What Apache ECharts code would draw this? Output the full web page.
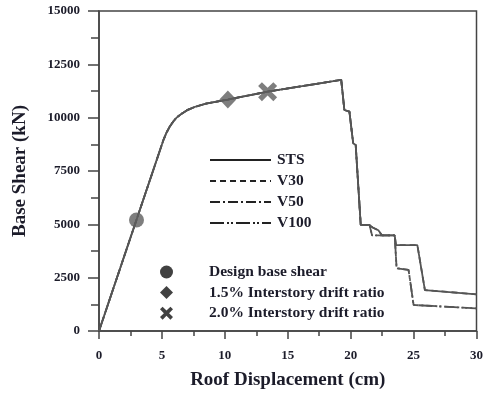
<!DOCTYPE html>
<html><head><meta charset="utf-8">
<script src="https://cdn.jsdelivr.net/npm/echarts@6/dist/echarts.min.js"></script>
<style>html,body{margin:0;padding:0;background:#fff}#c{width:486px;height:395px}</style>
</head><body><div id="c"></div>
<script>
// Pushover curves (Roof displacement cm, base shear kN)
const stsX = [0, 5.1, 5.35, 5.6, 5.9, 6.2, 6.6, 7.0, 7.6, 8.5, 10.24, 13.4, 19.25, 19.5, 19.9, 20.2, 20.4, 20.8, 21.5, 21.75, 22.2, 22.5, 23.5, 23.6, 25.3, 25.9, 30];
const stsY = [0, 8920, 9280, 9560, 9820, 10020, 10200, 10350, 10500, 10660, 10850, 11220, 11770, 10360, 10280, 8800, 8720, 4970, 4970, 4850, 4720, 4480, 4480, 4030, 4030, 1920, 1720];
const v30X = [0, 5.1, 5.35, 5.6, 5.9, 6.2, 6.6, 7.0, 7.6, 8.5, 10.24, 13.4, 19.25, 19.5, 19.9, 20.2, 20.4, 20.8, 21.5, 21.75, 22.2, 22.5, 23.5, 23.6, 25.3, 25.9, 30];
const v30Y = [0, 8920, 9280, 9560, 9820, 10020, 10200, 10350, 10500, 10660, 10850, 11220, 11770, 10360, 10280, 8800, 8720, 4970, 4970, 4850, 4720, 4480, 4480, 4030, 4030, 1920, 1720];
const v50X = [0, 5.1, 5.35, 5.6, 5.9, 6.2, 6.6, 7.0, 7.6, 8.5, 10.24, 13.4, 19.25, 19.5, 19.9, 20.2, 20.4, 20.8, 21.5, 21.7, 23.5, 23.65, 24.6, 25.0, 30];
const v50Y = [0, 8920, 9280, 9560, 9820, 10020, 10200, 10350, 10500, 10660, 10850, 11220, 11770, 10360, 10280, 8800, 8720, 4970, 4970, 4480, 4480, 2940, 2870, 1220, 1060];
const v100X = [0, 5.1, 5.35, 5.6, 5.9, 6.2, 6.6, 7.0, 7.6, 8.5, 10.24, 13.4, 19.25, 19.5, 19.9, 20.2, 20.4, 20.8, 21.5, 21.7, 23.5, 23.65, 24.6, 25.0, 30];
const v100Y = [0, 8920, 9280, 9560, 9820, 10020, 10200, 10350, 10500, 10660, 10850, 11220, 11770, 10360, 10280, 8800, 8720, 4970, 4970, 4480, 4480, 2940, 2870, 1220, 1060];
// Performance points
const designPt = [2.98, 5200];
const drift15Pt = [10.24, 10850];
const drift20Pt = [13.4, 11220];
// Ticks
const xTicks = [0, 5, 10, 15, 20, 25, 30];
const yTicks = [0, 2500, 5000, 7500, 10000, 12500, 15000];
const lineNames = ['STS', 'V30', 'V50', 'V100'];
const markerNames = ['Design base shear', '1.5% Interstory drift ratio', '2.0% Interstory drift ratio'];

const zip = (xs, ys) => xs.map((x, i) => [x, ys[i]]);
const font = 'Liberation Serif, Times New Roman, serif';
const txt = '#1c1c2a';
const crossPath = 'path://M20,0 L50,30 L80,0 L100,20 L70,50 L100,80 L80,100 L50,70 L20,100 L0,80 L30,50 L0,20 Z';

const lineCol = '#555';
function lineSeries(name, xs, ys, type) {
  return { name, type: 'line', data: zip(xs, ys), symbol: 'none', showSymbol: false, z: 2,
    lineStyle: { color: lineCol, width: 1.8, type: type }, itemStyle: { color: lineCol } };
}

const chart = echarts.init(document.getElementById('c'), null, { renderer: 'canvas' });
chart.setOption({
  animation: false,
  backgroundColor: '#fff',
  grid: { left: 99, right: 8, top: 11, bottom: 64, show: true, borderColor: '#444', borderWidth: 1.5, backgroundColor: 'transparent' },
  xAxis: {
    type: 'value', min: xTicks[0], max: xTicks[xTicks.length - 1], interval: 5,
    name: 'Roof Displacement (cm)', nameLocation: 'middle', nameGap: 40,
    nameTextStyle: { fontFamily: font, fontWeight: 'bold', fontSize: 19, color: txt },
    axisLine: { lineStyle: { color: '#444', width: 1.5 } },
    axisTick: { length: 8, lineStyle: { color: '#444', width: 1.5 } },
    minorTick: { show: true, splitNumber: 2, length: 5, lineStyle: { color: '#444', width: 1.5 } },
    splitLine: { show: false },
    axisLabel: { fontFamily: font, fontWeight: 'bold', fontSize: 13, color: txt, margin: 18, formatter: v => String(v) }
  },
  yAxis: {
    type: 'value', min: yTicks[0], max: yTicks[yTicks.length - 1], interval: 2500,
    name: 'Base Shear (kN)', nameLocation: 'middle', nameGap: 69,
    nameTextStyle: { fontFamily: font, fontWeight: 'bold', fontSize: 19, color: txt },
    axisLine: { show: true, lineStyle: { color: '#444', width: 1.5 } },
    axisTick: { show: true, length: 11, lineStyle: { color: '#444', width: 1.5 } },
    minorTick: { show: true, splitNumber: 2, length: 8, lineStyle: { color: '#444', width: 1.5 } },
    splitLine: { show: false },
    axisLabel: { fontFamily: font, fontWeight: 'bold', fontSize: 13, color: txt, margin: 19, formatter: v => String(v) }
  },
  legend: [
    { data: lineNames, orient: 'vertical', left: 209, top: 152, padding: 0, itemWidth: 61, itemHeight: 16, itemGap: 5,
      itemStyle: { opacity: 0 },
      lineStyle: { color: '#222' },
      textStyle: { fontFamily: font, fontWeight: 'bold', fontSize: 15.5, lineHeight: 16, color: txt, padding: [0, 0, 0, 1] } },
    { data: markerNames.map(n => ({ name: n, itemStyle: { color: '#111' } })), orient: 'vertical', left: 160, top: 264, padding: 0,
      itemWidth: 13, itemHeight: 13, itemGap: 4.6,
      textStyle: { fontFamily: font, fontWeight: 'bold', fontSize: 15.5, lineHeight: 16, color: txt, padding: [0, 0, 0, 31] } }
  ],
  series: [
    lineSeries(lineNames[0], stsX, stsY, 'solid'),
    lineSeries(lineNames[1], v30X, v30Y, [6, 4]),
    lineSeries(lineNames[2], v50X, v50Y, [10, 3, 2, 3]),
    lineSeries(lineNames[3], v100X, v100Y, [14, 3, 2, 2, 2, 3]),
    { name: markerNames[0], type: 'scatter', data: [designPt], symbol: 'circle', symbolSize: 15, z: 5, itemStyle: { color: '#5e5e5e' } },
    { name: markerNames[1], type: 'scatter', data: [drift15Pt], symbol: 'diamond', symbolSize: [17, 18], z: 5, itemStyle: { color: '#5e5e5e' } },
    { name: markerNames[2], type: 'scatter', data: [drift20Pt], symbol: crossPath, symbolSize: 19, z: 5, itemStyle: { color: '#5e5e5e' } }
  ]
});
</script></body></html>
